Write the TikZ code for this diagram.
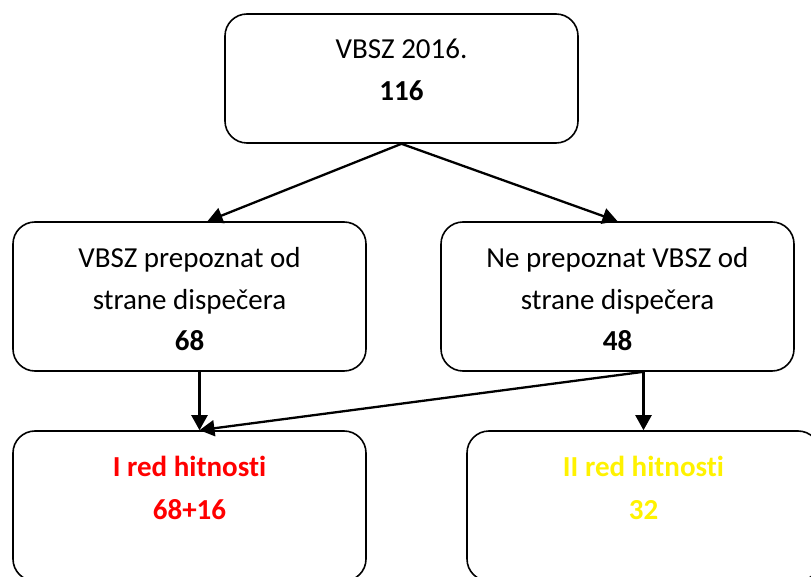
\documentclass[tikz,border=0pt]{standalone}
\usepackage{fontspec}
\setmainfont{Carlito}[Ligatures=NoCommon]
\usetikzlibrary{arrows.meta,
                positioning}

\begin{document}
\begin{tikzpicture}[x=1pt, y=-1pt,
        box/.style={draw, line width=1.6pt, rounded corners=22pt, minimum width=353pt, inner sep=0pt},
        txt/.style={align=center, inner sep=0pt, font=\fontsize{29}{41.5}\selectfont},
        arr/.style={-{Triangle[length=15pt, width=16pt]}, line width=2.3pt}]
        \useasboundingbox (0,0) rectangle (811,577);
        \clip (0,0) rectangle (811,577);

        % boxes
        \node [box, minimum height=129pt] (vbsz) at (401.5, 78.5) {};
        \node [box, minimum height=149pt] (prep) at (189.5, 296.5) {};
        \node [box, minimum height=149pt] (neprep) at (617.5, 296.5) {};
        \node [box, minimum height=150pt] (hitI) at (189.5, 506) {};
        \node [box, minimum height=150pt] (hitII) at (643.5, 506) {};

        % texts
        \node [txt, below=26pt of vbsz.north] (vbszTxt) {VBSZ 2016.\\\textbf{116}};
        \node [txt, below=26pt of prep.north] (prepTxt) {VBSZ prepoznat od\\strane dispečera\\\textbf{68}};
        \node [txt, below=26pt of neprep.north] (neprepTxt) {Ne prepoznat VBSZ od\\strane dispečera\\\textbf{48}};
        \node [txt, below=26pt of hitI.north, text=red, font=\fontsize{29}{43}\selectfont\bfseries] (hitITxt) {I red hitnosti\\68+16};
        \node [txt, below=26pt of hitII.north, text=yellow, font=\fontsize{29}{43}\selectfont\bfseries] (hitIITxt) {II red hitnosti\\32};

        % arrows
        \draw [arr] (vbsz.south) -- ([xshift=18pt]prep.north);
        \draw [arr] (vbsz.south) -- (neprep.north);
        \draw [arr] ([xshift=10pt]hitI.north |- prep.south) -- ([xshift=10pt]hitI.north);
        \draw [arr] (hitII.north |- neprep.south) -- (hitII.north);
        \draw [arr] (hitII.north |- neprep.south) -- ([xshift=10pt]hitI.north);
\end{tikzpicture}
\end{document}
